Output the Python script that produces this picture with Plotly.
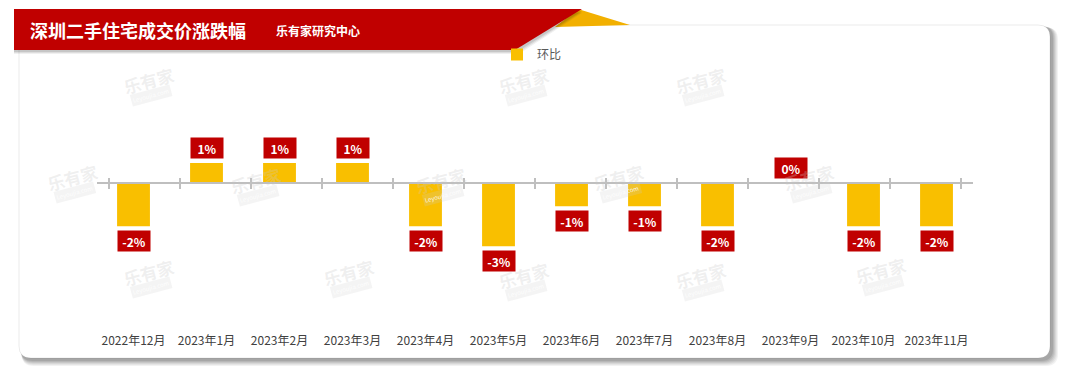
import plotly.graph_objects as go

# page body has an 8px margin: figure is placed at (8, 8) in the window
OFF = 8
W, H = 1080 - OFF, 376 - OFF

months = ["2022年12月", "2023年1月", "2023年2月", "2023年3月", "2023年4月", "2023年5月",
          "2023年6月", "2023年7月", "2023年8月", "2023年9月", "2023年10月", "2023年11月"]
mom_change = [-2.05, 0.95, 0.95, 0.95, -2.05, -3.0, -1.1, -1.1, -2.05, 0.0, -2.05, -2.05]
series_name = "环比"
title_text = "深圳二手住宅成交价涨跌幅"
source_text = "乐有家研究中心"

BAR_COLOR = "#F9BF00"
RED = "#C00000"
FONT = "Noto Sans CJK SC"


def fx(x):
    return (x - OFF) / W


def fy(y):
    return 1 - (y - OFF) / H


# plot area (window pixels)
PL, PR, PT, PB = 97, 973, 60, 332
ZERO_PX, PX_PER_UNIT = 183, 21.1
y_max = (ZERO_PX - PT) / PX_PER_UNIT
y_min = -(PB - ZERO_PX) / PX_PER_UNIT
zero_pos = fy(PB) + (0 - y_min) / (y_max - y_min) * (fy(PT) - fy(PB))

fig = go.Figure()

fig.add_trace(go.Bar(
    x=months, y=mom_change, name=series_name, marker=dict(color=BAR_COLOR, line=dict(width=0)),
    width=0.45, xaxis="x", yaxis="y", hoverinfo="skip",
))
# helper invisible traces so the zero-line axes are drawn
for ax in ("x2", "x3"):
    fig.add_trace(go.Scatter(x=months, y=mom_change, mode="markers", marker=dict(opacity=0),
                             xaxis=ax, yaxis="y", showlegend=False, hoverinfo="skip"))

annotations = []
for m, v in zip(months, mom_change):
    annotations.append(dict(
        x=m, y=v, xref="x", yref="y", text=f"<b>{v:.0f}%</b>", showarrow=False,
        yanchor="bottom" if v >= 0 else "top", yshift=4 if v >= 0 else -4,
        bgcolor=RED, font=dict(color="white", size=12, family=FONT),
        width=30, height=18, borderpad=1,
    ))

# watermarks
wm_pos = [(148, 80), (523, 80), (700, 80),
          (72, 178), (255, 180), (440, 180), (618, 178), (808, 177),
          (148, 272), (348, 272), (523, 275), (700, 275), (880, 270)]
for (x, y) in wm_pos:
    annotations.append(dict(x=fx(x), y=fy(y), xref="paper", yref="paper", text="<b>乐有家</b>",
                            xanchor="center", yanchor="middle",
                            showarrow=False, textangle=-15,
                            font=dict(size=17, color="rgba(200,200,200,0.28)", family=FONT)))
    annotations.append(dict(x=fx(x + 3), y=fy(y + 15), xref="paper", yref="paper", text="Leyoujia.com",
                            xanchor="center", yanchor="middle",
                            showarrow=False, textangle=-15, bgcolor="rgba(205,205,205,0.22)",
                            font=dict(size=6, color="rgba(255,255,255,0.9)", family=FONT)))

annotations.append(dict(x=fx(28), y=fy(30), xref="paper", yref="paper", xanchor="left", yanchor="middle",
                        text=f"<b>{title_text}</b>", showarrow=False,
                        font=dict(size=18, color="white", family=FONT)))
annotations.append(dict(x=fx(274), y=fy(30), xref="paper", yref="paper", xanchor="left", yanchor="middle",
                        text=f"<b>{source_text}</b>", showarrow=False,
                        font=dict(size=12, color="white", family=FONT)))


def rrect(x0, y0, x1, y1, r):
    rx, ry = r / W, r / H
    X0, X1, Y0, Y1 = fx(x0), fx(x1), fy(y1), fy(y0)
    return (f"M{X0+rx},{Y1} L{X1-rx},{Y1} Q{X1},{Y1} {X1},{Y1-ry} L{X1},{Y0+ry} "
            f"Q{X1},{Y0} {X1-rx},{Y0} L{X0+rx},{Y0} Q{X0},{Y0} {X0},{Y0+ry} "
            f"L{X0},{Y1-ry} Q{X0},{Y1} {X0+rx},{Y1} Z")


def poly(pts):
    return "M" + " L".join(f"{fx(x)},{fy(y)}" for x, y in pts) + " Z"


shapes = []
# card shadow
for i, a in enumerate([0.05, 0.05, 0.06, 0.07, 0.08, 0.09]):
    d = 8 - i
    shapes.append(dict(type="path", path=rrect(20 + d * 0.2, 25 + d * 0.3, 1050 + d, 358 + d, 12),
                       xref="paper", yref="paper", fillcolor=f"rgba(0,0,0,{a})", line=dict(width=0),
                       layer="below"))
shapes.append(dict(type="path", path=rrect(19, 25, 1050, 358, 12), xref="paper", yref="paper",
                   fillcolor="white", line=dict(color="rgba(0,0,0,0.08)", width=1), layer="below"))
# banner
shapes.append(dict(type="path", path=poly([(555, 27), (578, 9), (630, 25)]), xref="paper", yref="paper",
                   fillcolor="#F2B000", line=dict(width=0)))
for i, a in enumerate([0.06, 0.08, 0.1]):
    d = 4 - i
    shapes.append(dict(type="path", path=poly([(14, 9 + d), (582, 9 + d), (515 + d, 50 + d), (14, 50 + d)]),
                       xref="paper", yref="paper", fillcolor=f"rgba(0,0,0,{a})", line=dict(width=0)))
shapes.append(dict(type="path", path=poly([(14, 9), (582, 9), (515, 50), (14, 50)]), xref="paper",
                   yref="paper", fillcolor=RED, line=dict(width=0)))

axis_common = dict(type="category", categoryorder="array", categoryarray=months,
                   domain=[fx(PL), fx(PR)], fixedrange=True)

fig.update_layout(
    width=W, height=H, margin=dict(l=0, r=0, t=0, b=0),
    paper_bgcolor="white", plot_bgcolor="rgba(0,0,0,0)",
    font=dict(family=FONT, color="#404040"),
    xaxis=dict(**axis_common, anchor="y", showline=False, showgrid=False, ticks="",
               tickfont=dict(size=12, color="#404040", family=FONT)),
    xaxis2=dict(**axis_common, overlaying="x", anchor="free", position=zero_pos, side="bottom",
                showline=True, linecolor="#BFBFBF", linewidth=1.5, showgrid=False, showticklabels=False,
                ticks="outside", tickson="boundaries", ticklen=5, tickcolor="#BFBFBF", tickwidth=1.5),
    xaxis3=dict(**axis_common, overlaying="x", anchor="free", position=zero_pos, side="bottom",
                showline=False, showgrid=False, showticklabels=False,
                ticks="inside", tickson="boundaries", ticklen=5, tickcolor="#BFBFBF", tickwidth=1.5),
    yaxis=dict(domain=[fy(PB), fy(PT)], range=[y_min, y_max], visible=False, zeroline=False,
               showgrid=False, fixedrange=True),
    showlegend=True,
    legend=dict(x=fx(497), y=fy(40), xanchor="left", yanchor="top", orientation="h",
                bgcolor="rgba(0,0,0,0)", font=dict(size=12, color="#595959", family=FONT),
                itemwidth=30),
    annotations=annotations, shapes=shapes, bargap=0.55,
)

fig.write_html("out.html")
